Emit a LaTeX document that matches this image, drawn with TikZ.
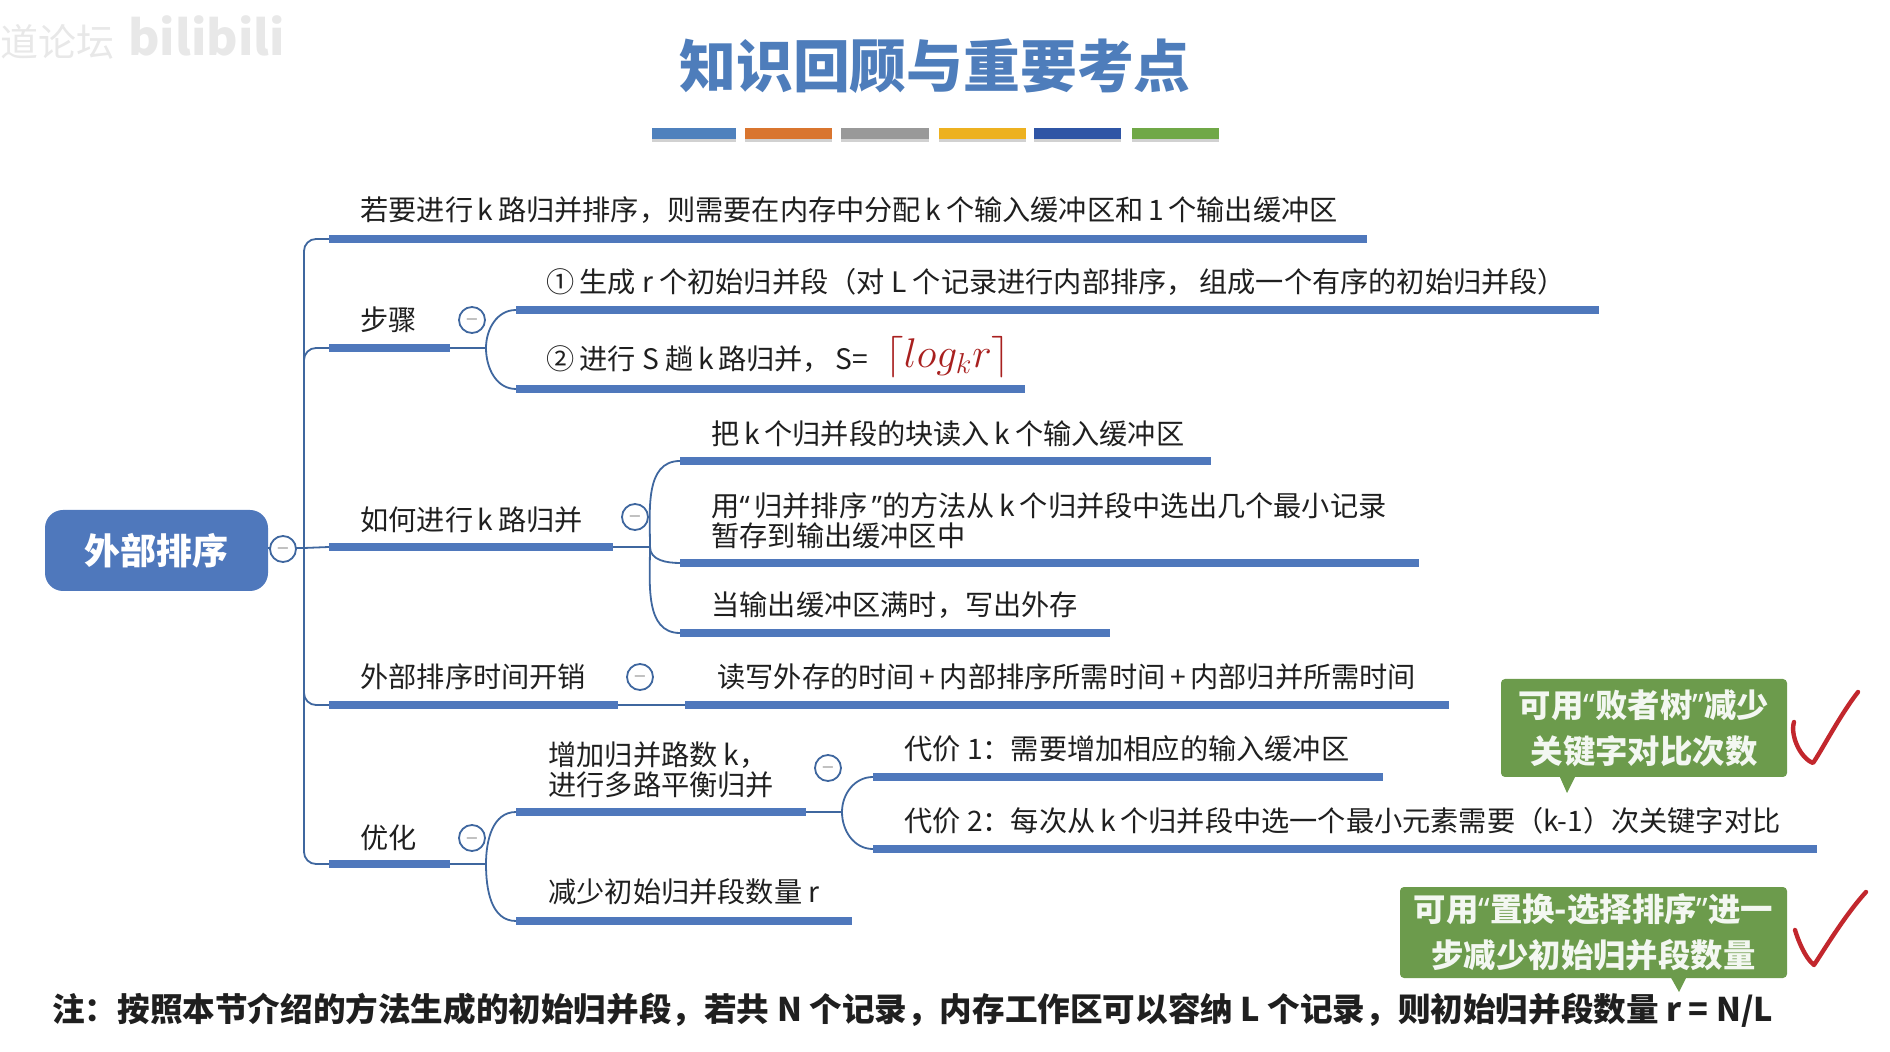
\documentclass[tikz,border=0pt]{standalone}
\usepackage{amsmath,amssymb}
\usepackage{fontspec}
\setmainfont{Noto Sans CJK SC}
\newfontfamily\quotefont{Noto Sans}
\usepackage{tikz}
\usetikzlibrary{arrows.meta,positioning,calc}
\definecolor{titleblue}{HTML}{4E7DBB}
\definecolor{barblue}{HTML}{4F78BC}
\definecolor{linkblue}{HTML}{3F679F}
\definecolor{tipgreen}{HTML}{6C9B4C}
\definecolor{markred}{HTML}{C2272D}
\definecolor{logred}{HTML}{A8201F}
\newcommand{\qopen}{{\quotefont “}}
\newcommand{\qclose}{{\quotefont ”}}
\tikzset{
  bar/.style={line width=3.6pt, barblue},
  link/.style={line width=0.9pt, linkblue, rounded corners=6pt},
  lbl/.style={anchor=west, inner sep=0pt, align=left, text=black!88, font=\fontsize{14.1}{15}\selectfont},
  knob/.style={circle, draw=linkblue, line width=0.9pt, fill=white, minimum size=13pt, inner sep=0pt, text=black!65, font=\fontsize{8}{8}\selectfont},
  tip/.style={fill=tipgreen, rounded corners=2pt, inner sep=0pt, align=center, text=white!92!tipgreen, font=\fontsize{16.2}{23}\selectfont\bfseries},
  tickmark/.style={markred, line width=2.2pt, line cap=round, line join=round},
}
\begin{document}
\begin{tikzpicture}[x=0.5pt,y=-0.5pt]
    \useasboundingbox (0,0) rectangle (1890,1052);
    % watermark
    \node[anchor=west, inner sep=0pt, text=black!9, font=\fontsize{19}{19}\selectfont] (markA) at (0,42) {道论坛};
    \node[anchor=west, inner sep=0pt, text=black!9, font=\fontsize{24}{24}\selectfont\bfseries] (markB) at (128,36) {bilibili};
    % title
    \node[text=titleblue, font=\fontsize{28.4}{31}\selectfont\bfseries] (title) at (935,66) {知识回顾与重要考点};
    \foreach \xa/\xb/\col in {652/736/4F81BD,745/832/D9752F,841/929/999999,939/1026/EDB120,1034/1121/2F55A5,1132/1219/70A847} {
      \definecolor{stripe}{HTML}{\col}
      \fill[black!18] (\xa,131) rectangle (\xb,142);
      \fill[stripe] (\xa,128) rectangle (\xb,139);
    }
    % root
    \node[fill=barblue, rounded corners=9pt, minimum width=111.5pt, minimum height=40.5pt, inner sep=0pt, text=white, font=\fontsize{18}{18}\selectfont\bfseries] (root) at (156.5,550.5) {外部排序};
    \coordinate (hub) at (304,548);
    \draw[link] (root.east |- hub) -- (hub);
    \node[knob] (rootKnob) at (283,549) {$-$};
    % top line
    \coordinate (memL) at (329,239);
    \coordinate (memR) at (1367,239);
    \draw[link] (memL) -| (hub);
    \draw[bar] (memL) -- (memR);
    \node[lbl] (memText) at (360,210) {若要进行\,k\,路归并排序，则需要在内存中分配\,k\,个输入缓冲区和\,1\,个输出缓冲区};
    % steps
    \coordinate (stepL) at (329,348);
    \coordinate (stepR) at (450,348);
    \coordinate (stepFork) at (486,348);
    \coordinate (genL) at (516,310);
    \coordinate (genR) at (1599,310);
    \coordinate (mergeL) at (516,389);
    \coordinate (mergeR) at (1025,389);
    \draw[link] (stepL) -| (hub);
    \draw[bar] (stepL) -- (stepR);
    \draw[link] (stepR) -- (stepFork);
    \draw[link] (stepFork) to[out=90,in=180] (genL);
    \draw[link] (stepFork) to[out=-90,in=180] (mergeL);
    \draw[bar] (genL) -- (genR);
    \draw[bar] (mergeL) -- (mergeR);
    \node[lbl] (stepText) at (360,320) {步骤};
    \node[knob] (stepKnob) at (472,320) {$-$};
    \node[lbl] (genText) at (546,282) {①\,生成 r 个初始归并段（对 L 个记录进行内部排序，\,组成一个有序的初始归并段）};
    \node[lbl] (mergeText) at (546,359) {②\,进行 S 趟\,k\,路归并，\,S=};
    \node[anchor=west, inner sep=0pt, text=logred, font=\fontsize{20}{24}\selectfont] (logText) at (885,357) {$\lceil log_k r\rceil$};
    % k-way merge
    \coordinate (howL) at (329,547);
    \coordinate (howR) at (613,547);
    \coordinate (howFork) at (650,547);
    \coordinate (readL) at (680,461);
    \coordinate (readR) at (1211,461);
    \coordinate (pickL) at (680,563);
    \coordinate (pickR) at (1419,563);
    \coordinate (fullL) at (680,633);
    \coordinate (fullR) at (1110,633);
    \draw[link] (howL) -- (hub);
    \draw[bar] (howL) -- (howR);
    \draw[link] (howR) -- (howFork);
    \draw[link] (howFork) to[out=90,in=180] (readL);
    \draw[link] (howFork) to[out=-90,in=180] (pickL);
    \draw[link] (howFork) to[out=-90,in=180] (fullL);
    \draw[bar] (readL) -- (readR);
    \draw[bar] (pickL) -- (pickR);
    \draw[bar] (fullL) -- (fullR);
    \node[lbl] (howText) at (360,520) {如何进行\,k\,路归并};
    \node[knob] (howKnob) at (635,517) {$-$};
    \node[lbl] (readText) at (711,434) {把\,k\,个归并段的块读入\,k\,个输入缓冲区};
    \node[lbl] (pickText) at (711,521) {用\qopen\,归并排序\,\qclose 的方法从\,k\,个归并段中选出几个最小记录\\暂存到输出缓冲区中};
    \node[lbl] (fullText) at (711,605) {当输出缓冲区满时，写出外存};
    % time cost
    \coordinate (costL) at (329,705);
    \coordinate (costR) at (618,705);
    \coordinate (sumL) at (685,705);
    \coordinate (sumR) at (1449,705);
    \draw[link] (costL) -| (hub);
    \draw[bar] (costL) -- (costR);
    \draw[link] (costR) -- (sumL);
    \draw[bar] (sumL) -- (sumR);
    \node[lbl] (costText) at (360,677) {外部排序时间开销};
    \node[knob] (costKnob) at (640,677) {$-$};
    \node[lbl] (sumText) at (717,677) {读写外存的时间\,+\,内部排序所需时间\,+\,内部归并所需时间};
    % optimisation
    \coordinate (optL) at (329,864);
    \coordinate (optR) at (450,864);
    \coordinate (optFork) at (486,864);
    \coordinate (waysL) at (516,812);
    \coordinate (waysR) at (806,812);
    \coordinate (waysFork) at (842,812);
    \coordinate (runsL) at (516,921);
    \coordinate (runsR) at (852,921);
    \coordinate (costaL) at (873,777);
    \coordinate (costaR) at (1383,777);
    \coordinate (costbL) at (873,849);
    \coordinate (costbR) at (1817,849);
    \draw[link] (optL) -| (hub);
    \draw[bar] (optL) -- (optR);
    \draw[link] (optR) -- (optFork);
    \draw[link] (optFork) to[out=90,in=180] (waysL);
    \draw[link] (optFork) to[out=-90,in=180] (runsL);
    \draw[bar] (waysL) -- (waysR);
    \draw[bar] (runsL) -- (runsR);
    \draw[link] (waysR) -- (waysFork);
    \draw[link] (waysFork) to[out=90,in=180] (costaL);
    \draw[link] (waysFork) to[out=-90,in=180] (costbL);
    \draw[bar] (costaL) -- (costaR);
    \draw[bar] (costbL) -- (costbR);
    \node[lbl] (optText) at (360,838) {优化};
    \node[knob] (optKnob) at (472,838) {$-$};
    \node[lbl] (waysText) at (548,770) {增加归并路数 k，\\进行多路平衡归并};
    \node[knob] (waysKnob) at (828,768) {$-$};
    \node[lbl] (runsText) at (548,892) {减少初始归并段数量 r};
    \node[lbl] (costaText) at (904,749) {代价 1：需要增加相应的输入缓冲区};
    \node[lbl] (costbText) at (904,821) {代价 2：每次从\,k\,个归并段中选一个最小元素需要（k-1）次关键字对比};
    % green notes
    \fill[tipgreen] (1559,775) -- (1576,775) -- (1567,793) -- cycle;
    \node[tip, minimum width=143pt, minimum height=49pt] (tipTree) at (1644,728) {可用\qopen 败者树\qclose 减少\\关键字对比次数};
    \fill[tipgreen] (1670,976) -- (1687,976) -- (1679,992) -- cycle;
    \node[tip, minimum width=193.5pt, minimum height=45.5pt] (tipRuns) at (1593.5,932.5) {可用\qopen 置换-选择排序\qclose 进一\\步减少初始归并段数量};
    % ticks
    \draw[tickmark] (1794,722) .. controls (1790,735) and (1800,758) .. (1813,763) .. controls (1822,750) and (1840,715) .. (1858,692);
    \draw[tickmark] (1795,930) .. controls (1798,940) and (1805,958) .. (1814,965) .. controls (1824,950) and (1845,915) .. (1866,892);
    % footnote
    \node[anchor=west, inner sep=0pt, text=black!88, font=\fontsize{16.3}{18}\selectfont\bfseries] (note) at (52,1010) {注：按照本节介绍的方法生成的初始归并段，若共 N 个记录，内存工作区可以容纳 L 个记录，则初始归并段数量 r = N/L};
  \end{tikzpicture}
\end{document}
